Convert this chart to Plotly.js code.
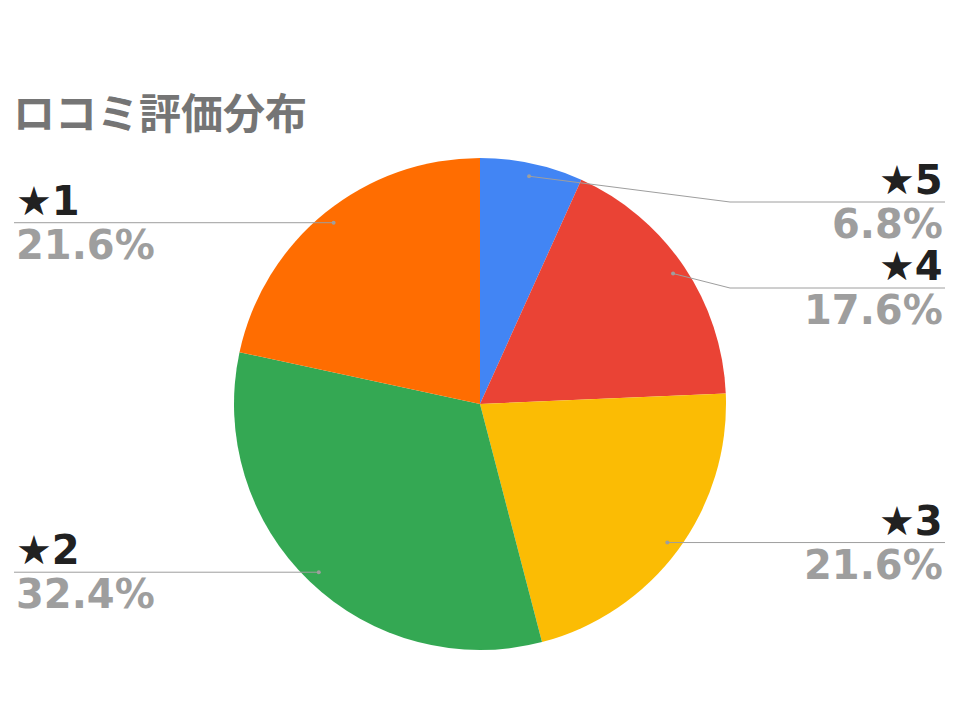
<!DOCTYPE html>
<html>
<head>
<meta charset="utf-8">
<script src="https://cdn.plot.ly/plotly-3.0.1.min.js"></script>
<style>html,body{margin:0;padding:0;background:#fff;}#chart{width:960px;height:720px;}</style>
</head>
<body>
<div id="chart"></div>
<script>
// ---- data ----
const titleText = 'ロコミ評価分布';
const labels = ['★5', '★4', '★3', '★2', '★1'];
const counts = [5, 13, 16, 24, 16];
const colors = ['#4285F4', '#EA4335', '#FBBC04', '#34A853', '#FF6D01'];

// ---- geometry ----
const W = 960, H = 720;
const cx = 480, cy = 404, R = 246;
const dotR = 233;
const minLineY = 202, spacing = 86;
const rightX = 945, leftX = 14;

const total = counts.reduce((a, b) => a + b, 0);
const pts = [];
let cum = 0;
counts.forEach((v, i) => {
  const a = (cum + v / 2) / total * 2 * Math.PI;
  cum += v;
  pts.push({
    i: i,
    x: cx + dotR * Math.sin(a),
    y: cy - dotR * Math.cos(a),
    right: Math.sin(a) >= 0,
    pct: (v / total * 100).toFixed(1) + '%'
  });
});
['right', 'left'].forEach(side => {
  const group = pts.filter(p => (side === 'right') === p.right).sort((a, b) => a.y - b.y);
  let prev = -Infinity;
  group.forEach(p => {
    p.lineY = Math.max(p.y, prev + spacing, minLineY);
    prev = p.lineY;
  });
});

const px = x => x / W;
const py = y => 1 - y / H;

const shapes = [];
const annotations = [];
pts.forEach(p => {
  const kinkX = p.right ? cx + R + 4 : cx - R - 4;
  const endX = p.right ? rightX : leftX;
  shapes.push({
    type: 'path', xref: 'paper', yref: 'paper',
    path: 'M ' + px(p.x) + ' ' + py(p.y) + ' L ' + px(kinkX) + ' ' + py(p.lineY) + ' L ' + px(endX) + ' ' + py(p.lineY),
    line: {color: '#9E9E9E', width: 1}
  });
  shapes.push({
    type: 'circle', xref: 'paper', yref: 'paper',
    x0: px(p.x - 2), x1: px(p.x + 2), y0: py(p.y + 2), y1: py(p.y - 2),
    fillcolor: '#9E9E9E', line: {width: 0}
  });
  annotations.push({
    xref: 'paper', yref: 'paper', showarrow: false,
    x: px(endX), y: py(p.lineY - 22), xanchor: p.right ? 'right' : 'left', yanchor: 'middle',
    text: labels[p.i],
    font: {family: 'DejaVu Sans', size: 40, color: '#212121', weight: 'bold'}
  });
  annotations.push({
    xref: 'paper', yref: 'paper', showarrow: false,
    x: px(endX), y: py(p.lineY + 22), xanchor: p.right ? 'right' : 'left', yanchor: 'middle',
    text: p.pct,
    font: {family: 'DejaVu Sans', size: 40, color: '#9E9E9E', weight: 'bold'}
  });
});

const trace = {
  type: 'pie',
  labels: labels,
  values: counts,
  sort: false,
  direction: 'clockwise',
  rotation: 0,
  marker: {colors: colors, line: {width: 0}},
  textinfo: 'none',
  hoverinfo: 'label+percent',
  domain: {x: [(cx - R) / W, (cx + R) / W], y: [1 - (cy + R) / H, 1 - (cy - R) / H]},
  showlegend: false
};

const layout = {
  width: W, height: H,
  margin: {l: 0, r: 0, t: 0, b: 0},
  paper_bgcolor: '#ffffff',
  title: {
    text: titleText,
    x: 13 / W, xanchor: 'left', xref: 'paper',
    y: 1 - 114 / H, yanchor: 'middle', yref: 'container',
    font: {family: 'Noto Sans CJK JP', size: 42, color: '#757575', weight: 'bold'}
  },
  shapes: shapes,
  annotations: annotations,
  showlegend: false
};

Plotly.newPlot('chart', [trace], layout, {displayModeBar: false, staticPlot: true});
</script>
</body>
</html>
